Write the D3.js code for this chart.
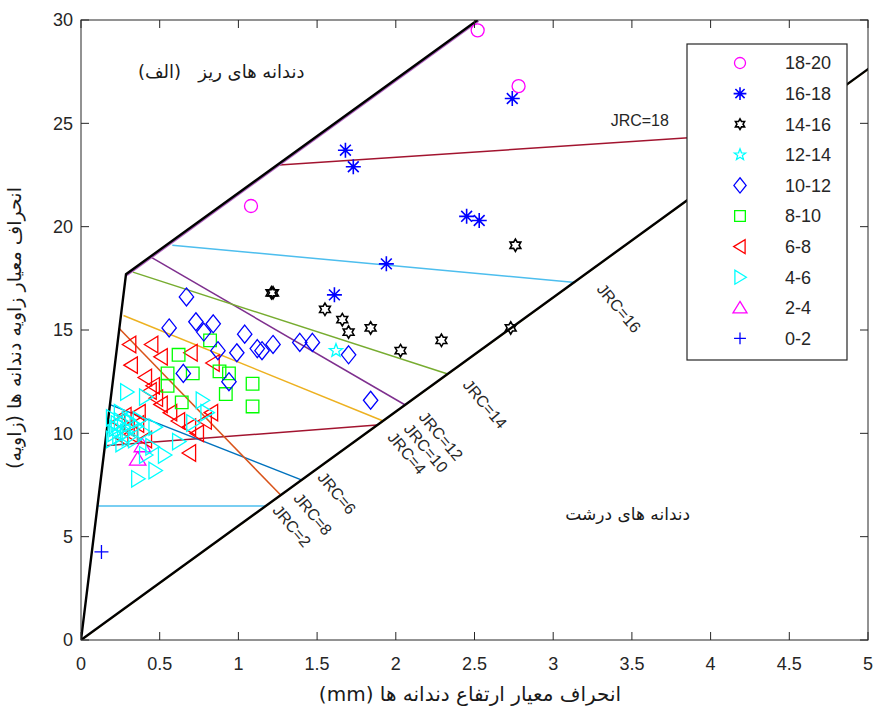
<!DOCTYPE html>
<html>
<head>
<meta charset="utf-8">
<script src="https://cdn.jsdelivr.net/npm/d3@7"></script>
<style>
  body { margin: 0; background: #fff; }
  text { font-family: "Liberation Sans", Arial, sans-serif; }
  .fa { font-family: "DejaVu Sans", "Noto Sans", sans-serif; }
</style>
</head>
<body>
<script>
// ---- data ----
var xTicks = [0, 0.5, 1, 1.5, 2, 2.5, 3, 3.5, 4, 4.5, 5];
var yTicks = [0, 5, 10, 15, 20, 25, 30];

// envelope (black) lines
var upperBound = [[0, 0], [0.286, 17.7], [2.52, 30]];
var lowerBound = [[0, 0], [5.05, 27.9]];

// JRC lines: name, x1, y1, x2, y2, colour
var jrcLines = [
  ["JRC=2", 0.11, 6.48, 1.17, 6.48, "#4dbeee"],
  ["JRC=4", 0.15, 9.4, 1.88, 10.4, "#a2142f"],
  ["JRC=6", 0.18, 11.4, 1.40, 7.75, "#0072bd"],
  ["JRC=8", 0.24, 15.1, 1.27, 7.0, "#d95319"],
  ["JRC=10", 0.27, 15.7, 1.92, 10.6, "#edb120"],
  ["JRC=12", 0.45, 18.5, 2.06, 11.37, "#7e2f8e"],
  ["JRC=14", 0.33, 17.8, 2.33, 12.87, "#77ac30"],
  ["JRC=16", 0.58, 19.1, 3.14, 17.3, "#4dbeee"],
  ["JRC=18", 1.26, 22.98, 4.44, 24.6, "#a2142f"]
];
// label centres (data units) and rotation
var jrcLabels = [
  ["JRC=2", 1.34, 5.52, 50],
  ["JRC=8", 1.474, 6.10, 50],
  ["JRC=6", 1.626, 7.11, 50],
  ["JRC=4", 2.071, 9.05, 50],
  ["JRC=10", 2.192, 9.29, 50],
  ["JRC=12", 2.287, 9.87, 50],
  ["JRC=14", 2.567, 11.42, 50],
  ["JRC=16", 3.418, 16.06, 50],
  ["JRC=18", 3.55, 25.15, 0]
];

var classes = ["18-20", "16-18", "14-16", "12-14", "10-12", "8-10", "6-8", "4-6", "2-4", "0-2"];
var classColors = ["#ff00ff", "#0000ff", "#000000", "#00ffff", "#0000ff", "#00ff00", "#ff0000", "#00ffff", "#ff00ff", "#0000ff"];
var classMarkers = ["circle", "asterisk", "hexagram", "pentagram", "diamond", "square", "triLeft", "triRight", "triUp", "plus"];

var pts1820 = [[2.52, 29.5], [2.78, 26.8], [1.08, 21.0]];
var pts1618 = [[1.68, 23.7], [1.73, 22.9], [2.74, 26.2], [2.45, 20.5], [2.53, 20.3], [1.94, 18.2], [1.61, 16.7]];
var pts1416 = [[1.21, 16.8], [1.22, 16.8], [1.55, 16.0], [1.66, 15.5], [1.70, 14.9], [1.84, 15.1], [2.03, 14.0],
  [2.29, 14.5], [2.73, 15.1], [2.76, 19.1]];
var pts1214 = [[1.62, 14.0]];
var pts1012 = [[0.67, 16.6], [0.56, 15.1], [0.73, 15.4], [0.84, 15.3], [0.78, 14.9], [1.04, 14.8], [0.99, 13.9],
  [1.12, 14.1], [1.15, 14.0], [1.22, 14.3], [1.39, 14.4], [1.47, 14.4], [1.70, 13.8], [1.84, 11.6],
  [0.65, 12.9], [0.94, 12.5], [0.87, 14.0]];
var pts810 = [[0.82, 14.5], [0.62, 13.8], [0.71, 12.9], [0.55, 12.9], [0.88, 13.0], [0.94, 12.9], [1.09, 12.4],
  [0.55, 12.3], [0.92, 11.9], [1.09, 11.3], [0.64, 11.5]];
var pts68 = [[0.31, 14.3], [0.45, 14.3], [0.51, 13.7], [0.70, 13.9], [0.32, 13.3], [0.84, 13.4], [0.46, 12.3],
  [0.44, 12.05], [0.48, 11.7], [0.51, 11.4], [0.57, 11.0], [0.62, 10.6], [0.69, 10.3], [0.79, 10.6],
  [0.74, 10.0], [0.69, 9.05], [0.83, 11.0], [0.37, 11.0], [0.41, 12.7],
  [0.24, 10.55], [0.30, 10.25], [0.36, 10.45], [0.26, 9.8], [0.32, 9.95], [0.41, 9.7], [0.28, 10.85]];
var pts46 = [[0.29, 12.0], [0.41, 11.75], [0.77, 11.6], [0.80, 11.0], [0.71, 10.5], [0.47, 10.3], [0.62, 9.6],
  [0.53, 8.95], [0.47, 8.2], [0.36, 7.8], [0.41, 8.95], [0.45, 9.35],
  [0.20, 10.75], [0.25, 11.0], [0.30, 10.65], [0.22, 10.25], [0.29, 10.05], [0.35, 10.35], [0.20, 9.7],
  [0.26, 9.5], [0.34, 9.7], [0.40, 10.05], [0.24, 9.85], [0.37, 10.65],
  [0.23, 10.45], [0.27, 10.3], [0.32, 10.5], [0.21, 10.0], [0.30, 9.8], [0.25, 10.6]];
var pts24 = [[0.39, 9.4], [0.36, 8.75]];
var pts02 = [[0.13, 4.26]];
var classPoints = [pts1820, pts1618, pts1416, pts1214, pts1012, pts810, pts68, pts46, pts24, pts02];

// ---- chart ----
var W = 876, H = 711;
var svg = d3.select("body").append("svg").attr("width", W).attr("height", H);

var x = d3.scaleLinear().domain([0, 5]).range([81, 868]);
var y = d3.scaleLinear().domain([0, 30]).range([640, 20]);

var axisColor = "#262626";

// marker paths
function markerPath(type, s) {
  var p = d3.path();
  if (type === "circle") { p.moveTo(s, 0); p.arc(0, 0, s, 0, 2 * Math.PI); }
  else if (type === "asterisk") {
    p.moveTo(-s, 0); p.lineTo(s, 0); p.moveTo(0, -s); p.lineTo(0, s);
    var d = s * 0.72;
    p.moveTo(-d, -d); p.lineTo(d, d); p.moveTo(-d, d); p.lineTo(d, -d);
  }
  else if (type === "plus") { p.moveTo(-s, 0); p.lineTo(s, 0); p.moveTo(0, -s); p.lineTo(0, s); }
  else if (type === "hexagram" || type === "pentagram") {
    var n = type === "hexagram" ? 6 : 5, ri = type === "hexagram" ? s * 0.58 : s * 0.42;
    for (var i = 0; i < 2 * n; i++) {
      var a = -Math.PI / 2 + i * Math.PI / n, r = i % 2 ? ri : s;
      if (i === 0) p.moveTo(r * Math.cos(a), r * Math.sin(a)); else p.lineTo(r * Math.cos(a), r * Math.sin(a));
    }
    p.closePath();
  }
  else if (type === "diamond") { p.moveTo(0, -s * 1.25); p.lineTo(s, 0); p.lineTo(0, s * 1.25); p.lineTo(-s, 0); p.closePath(); }
  else if (type === "square") { p.rect(-s, -s, 2 * s, 2 * s); }
  else if (type === "triLeft") { p.moveTo(-s, 0); p.lineTo(s * 0.8, -s * 1.1); p.lineTo(s * 0.8, s * 1.1); p.closePath(); }
  else if (type === "triRight") { p.moveTo(s, 0); p.lineTo(-s * 0.8, -s * 1.1); p.lineTo(-s * 0.8, s * 1.1); p.closePath(); }
  else if (type === "triUp") { p.moveTo(0, -s); p.lineTo(s * 1.1, s * 0.8); p.lineTo(-s * 1.1, s * 0.8); p.closePath(); }
  return p.toString();
}
var markerSize = { circle: 6.5, asterisk: 7.5, plus: 7, hexagram: 6.2, pentagram: 7, diamond: 7.2, square: 6.3, triLeft: 7.5, triRight: 7.5, triUp: 7.5 };
var markerWidth = { asterisk: 1.6, hexagram: 1.6 };

var plot = svg.append("g");
plot.append("clipPath").attr("id", "clip").append("rect")
  .attr("x", x(0)).attr("y", y(30)).attr("width", x(5) - x(0)).attr("height", y(0) - y(30));
var inner = plot.append("g").attr("clip-path", "url(#clip)");

var line = d3.line().x(function (d) { return x(d[0]); }).y(function (d) { return y(d[1]); });

// JRC lines
inner.selectAll(".jrc").data(jrcLines).enter().append("line")
  .attr("x1", function (d) { return x(d[1]); }).attr("y1", function (d) { return y(d[2]); })
  .attr("x2", function (d) { return x(d[3]); }).attr("y2", function (d) { return y(d[4]); })
  .attr("stroke", function (d) { return d[5]; }).attr("stroke-width", 1.5);

// coloured shadows along boundaries
inner.append("path").datum(upperBound.slice(1)).attr("d", line)
  .attr("transform", "translate(1,1.2)").attr("fill", "none").attr("stroke", "#b060c0").attr("stroke-width", 1.5);
inner.append("path").datum(lowerBound).attr("d", line)
  .attr("transform", "translate(1,-0.5)").attr("fill", "none").attr("stroke", "#edb120").attr("stroke-width", 1.5);

// boundaries
inner.append("path").datum(upperBound).attr("d", line)
  .attr("fill", "none").attr("stroke", "#000").attr("stroke-width", 2.4);
inner.append("path").datum(lowerBound).attr("d", line)
  .attr("fill", "none").attr("stroke", "#000").attr("stroke-width", 2.4);

// points
var order = [9, 8, 6, 7, 5, 4, 3, 2, 1, 0];
order.forEach(function (ci) {
  var m = classMarkers[ci];
  inner.append("g").selectAll("path").data(classPoints[ci]).enter().append("path")
    .attr("transform", function (d) { return "translate(" + x(d[0]) + "," + y(d[1]) + ")"; })
    .attr("d", markerPath(m, markerSize[m]))
    .attr("fill", "none").attr("stroke", classColors[ci])
    .attr("stroke-width", markerWidth[m] || 1.3);
});

// JRC labels
inner.selectAll(".jl").data(jrcLabels).enter().append("text")
  .attr("transform", function (d) { return "translate(" + x(d[1]) + "," + y(d[2]) + ") rotate(" + d[3] + ")"; })
  .attr("text-anchor", "middle").attr("dy", "0.35em")
  .attr("font-size", 16).attr("fill", "#262626")
  .text(function (d) { return d[0]; });

// region annotations
svg.append("text").attr("class", "fa").attr("direction", "rtl")
  .attr("x", x(1.42)).attr("y", y(27.2)).attr("text-anchor", "start")
  .attr("font-size", 18).attr("fill", "#1a1a1a")
  .text("دندانه های ریز\u00a0\u00a0 (الف)");
svg.append("text").attr("class", "fa").attr("direction", "rtl")
  .attr("x", x(3.87)).attr("y", y(5.8)).attr("text-anchor", "start")
  .attr("font-size", 17).attr("fill", "#1a1a1a")
  .text("دندانه های درشت");

// axes box and ticks
var ax = svg.append("g");
ax.append("rect").attr("x", x(0)).attr("y", y(30)).attr("width", x(5) - x(0)).attr("height", y(0) - y(30))
  .attr("fill", "none").attr("stroke", axisColor).attr("stroke-width", 1);
var tl = 8;
xTicks.forEach(function (t) {
  ax.append("line").attr("x1", x(t)).attr("x2", x(t)).attr("y1", y(0)).attr("y2", y(0) - tl).attr("stroke", axisColor);
  ax.append("line").attr("x1", x(t)).attr("x2", x(t)).attr("y1", y(30)).attr("y2", y(30) + tl).attr("stroke", axisColor);
  ax.append("text").attr("x", x(t)).attr("y", y(0) + 30).attr("text-anchor", "middle")
    .attr("font-size", 18).attr("fill", axisColor).text(d3.format("")(t));
});
yTicks.forEach(function (t) {
  ax.append("line").attr("x1", x(0)).attr("x2", x(0) + tl).attr("y1", y(t)).attr("y2", y(t)).attr("stroke", axisColor);
  ax.append("line").attr("x1", x(5)).attr("x2", x(5) - tl).attr("y1", y(t)).attr("y2", y(t)).attr("stroke", axisColor);
  ax.append("text").attr("x", x(0) - 8).attr("y", y(t)).attr("dy", "0.36em").attr("text-anchor", "end")
    .attr("font-size", 18).attr("fill", axisColor).text(t);
});

// axis titles
svg.append("text").attr("class", "fa").attr("direction", "rtl")
  .attr("x", 470).attr("y", 701).attr("text-anchor", "middle")
  .attr("font-size", 20).attr("fill", "#1a1a1a")
  .text("انحراف معیار ارتفاع دندانه ها (mm)");
svg.append("text").attr("class", "fa").attr("direction", "rtl")
  .attr("transform", "translate(21,328) rotate(-90)").attr("text-anchor", "middle")
  .attr("font-size", 19).attr("fill", "#1a1a1a")
  .text("انحراف معیار زاویه دندانه ها (زاویه)");

// legend
var lg = svg.append("g").attr("transform", "translate(687,44)");
lg.append("rect").attr("width", 160).attr("height", 316)
  .attr("fill", "#fff").attr("stroke", axisColor).attr("stroke-width", 1.2);
classes.forEach(function (c, i) {
  var ry = 19 + i * 30.6;
  var m = classMarkers[i];
  lg.append("path").attr("transform", "translate(53," + ry + ")")
    .attr("d", markerPath(m, markerSize[m] * 0.85))
    .attr("fill", "none").attr("stroke", classColors[i]).attr("stroke-width", markerWidth[m] || 1.3);
  lg.append("text").attr("x", 98).attr("y", ry).attr("dy", "0.36em")
    .attr("font-size", 18).attr("fill", axisColor).text(c);
});
</script>
</body>
</html>
